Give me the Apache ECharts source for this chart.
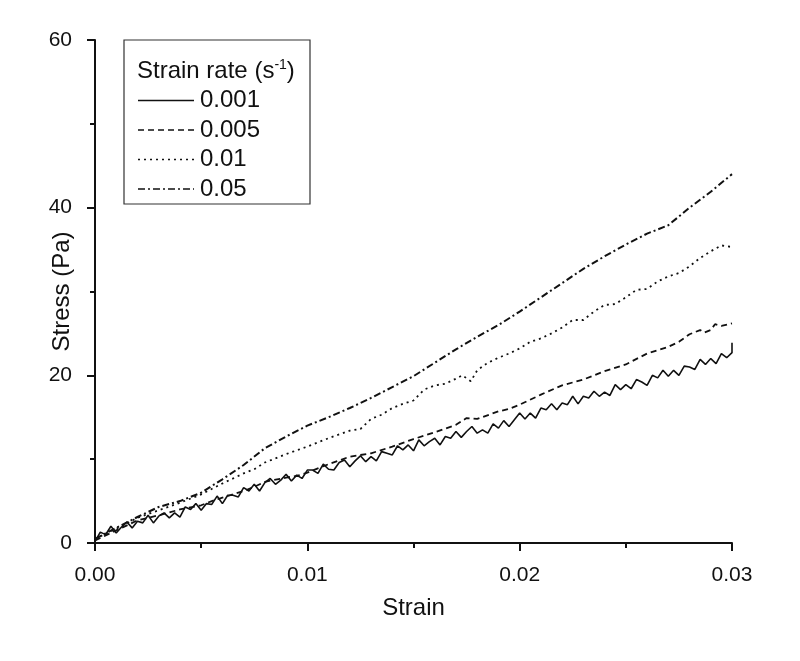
<!DOCTYPE html>
<html>
<head>
<meta charset="utf-8">
<script src="https://cdn.jsdelivr.net/npm/echarts@6/dist/echarts.min.js"></script>
<style>html,body{margin:0;padding:0;background:#fff}#c{width:800px;height:661px}</style>
</head>
<body>
<div id="c"></div>
<script>
// ---- data ----
const seriesNames = ['0.001', '0.005', '0.01', '0.05'];
const xTicks = [0, 0.01, 0.02, 0.03];
const yTicks = [0, 20, 40, 60];

// strain rate 0.001 (noisy trace), strain step 0.00025
const strain001 = [0,0.00025,0.0005,0.00075,0.001,0.00125,0.0015,0.00175,0.002,0.00225,0.0025,0.00275,0.003,0.00325,0.0035,0.00375,0.004,0.00425,0.0045,0.00475,0.005,0.00525,0.0055,0.00575,0.006,0.00625,0.0065,0.00675,0.007,0.00725,0.0075,0.00775,0.008,0.00825,0.0085,0.00875,0.009,0.00925,0.0095,0.00975,0.01,0.01025,0.0105,0.01075,0.011,0.01125,0.0115,0.01175,0.012,0.01225,0.0125,0.01275,0.013,0.01325,0.0135,0.01375,0.014,0.01425,0.0145,0.01475,0.015,0.01525,0.0155,0.01575,0.016,0.01625,0.0165,0.01675,0.017,0.01725,0.0175,0.01775,0.018,0.01825,0.0185,0.01875,0.019,0.01925,0.0195,0.01975,0.02,0.02025,0.0205,0.02075,0.021,0.02125,0.0215,0.02175,0.022,0.02225,0.0225,0.02275,0.023,0.02325,0.0235,0.02375,0.024,0.02425,0.0245,0.02475,0.025,0.02525,0.0255,0.02575,0.026,0.02625,0.0265,0.02675,0.027,0.02725,0.0275,0.02775,0.028,0.02825,0.0285,0.02875,0.029,0.02925,0.0295,0.02975,0.03,0.03];
const stress001 = [0.2,1.3,1.0,2.0,1.2,1.9,2.5,1.8,2.6,2.4,3.3,2.4,3.2,3.6,3.0,3.6,3.1,4.3,4.0,4.7,3.9,4.7,4.6,5.6,4.7,5.7,5.7,5.5,6.6,6.2,7.0,6.2,7.2,7.7,7.0,7.5,8.2,7.4,8.1,7.7,8.7,8.7,8.3,9.4,8.8,8.7,9.6,9.9,9.1,9.8,10.4,9.7,10.3,9.8,10.9,10.7,10.5,11.6,11.1,11.7,11.0,12.3,11.6,12.1,12.5,11.7,12.7,12.5,13.3,12.6,13.3,13.9,13.1,13.5,13.1,14.2,13.7,14.6,13.9,14.7,15.5,14.8,15.5,14.9,16.1,15.9,16.6,15.9,16.7,16.5,17.5,16.6,17.5,17.3,18.1,17.5,18.0,17.6,18.9,18.3,18.9,18.4,19.5,19.2,18.8,20.0,19.7,20.6,19.9,20.6,20.0,21.1,21.0,20.7,21.9,21.3,22.0,21.4,22.6,22.1,22.7,23.9];

// strain rate 0.005
const strain005 = [0,0.001,0.002,0.003,0.004,0.005,0.0055,0.006,0.007,0.0075,0.008,0.009,0.0095,0.01,0.011,0.012,0.013,0.014,0.015,0.016,0.017,0.0175,0.018,0.019,0.0195,0.02,0.021,0.022,0.023,0.024,0.025,0.026,0.0265,0.027,0.0275,0.028,0.0285,0.0287,0.029,0.0292,0.0295,0.03];
const stress005 = [0.3,1.5,2.7,3.3,4.0,4.5,5.0,5.4,6.2,6.7,7.3,7.8,8.0,8.4,9.4,10.3,10.7,11.5,12.4,13.2,14.1,14.9,14.8,15.7,16.0,16.5,17.7,18.8,19.5,20.5,21.3,22.6,23.0,23.4,24.0,24.9,25.4,25.1,25.4,26.1,25.9,26.2];

// strain rate 0.01
const strain01 = [0,0.001,0.002,0.003,0.004,0.005,0.006,0.007,0.0075,0.008,0.009,0.01,0.011,0.012,0.0125,0.013,0.0135,0.014,0.0145,0.015,0.0155,0.016,0.0165,0.017,0.0173,0.0177,0.018,0.0185,0.019,0.0195,0.02,0.0205,0.021,0.0215,0.022,0.0225,0.023,0.0235,0.024,0.0245,0.025,0.0255,0.026,0.0265,0.027,0.0275,0.028,0.0285,0.029,0.0295,0.03];
const stress01 = [0.5,1.7,3.0,3.9,4.8,5.8,7.1,8.3,8.8,9.6,10.6,11.5,12.5,13.4,13.6,14.8,15.3,16.1,16.6,17.0,18.3,18.8,19.0,19.6,20.0,19.3,20.6,21.5,22.1,22.6,23.2,24.0,24.4,25.0,25.7,26.6,26.6,27.6,28.4,28.5,29.3,30.2,30.3,31.2,31.8,32.2,33.0,34.0,34.8,35.5,35.3];

// strain rate 0.05
const strain05 = [0,0.001,0.002,0.003,0.004,0.005,0.006,0.007,0.008,0.009,0.01,0.011,0.012,0.013,0.014,0.015,0.016,0.017,0.018,0.019,0.02,0.021,0.022,0.023,0.024,0.025,0.026,0.027,0.028,0.029,0.03];
const stress05 = [0.5,1.8,3.1,4.3,5.0,6.0,7.6,9.3,11.3,12.7,14.0,15.0,16.1,17.3,18.6,19.9,21.5,23.1,24.6,26.0,27.6,29.3,31.0,32.7,34.2,35.6,36.9,37.9,40.0,41.9,44.0];

// ---- chart ----
const FONT = "'Liberation Sans', Arial, sans-serif";
const INK = '#111';
const dashTypes = ['solid', [6, 4], [2, 4], [7, 3, 2, 3]];
const widths = [1.6, 1.8, 1.8, 2];
const xs = [strain001, strain005, strain01, strain05];
const ys = [stress001, stress005, stress01, stress05];

const series = seriesNames.map((n, i) => ({
  name: n, type: 'line', showSymbol: false, symbol: 'none',
  data: xs[i].map((x, j) => [x, ys[i][j]]),
  lineStyle: { color: INK, width: widths[i], type: dashTypes[i] },
  animation: false
}));

// legend drawn as graphic, built from seriesNames
const legendX = 124, legendY = 40, rowH = 29.5;
const graphics = [
  { type: 'rect', shape: { x: legendX, y: legendY, width: 186, height: 164 },
    style: { fill: '#fff', stroke: '#333', lineWidth: 1.2 }, z: 10 },
  { type: 'text', x: legendX + 13, y: legendY + 31, z: 11,
    style: { text: 'Strain rate (s{sup|-1})', font: '24px ' + FONT, fill: INK, verticalAlign: 'middle',
      rich: { sup: { fontSize: 14, fontFamily: FONT, verticalAlign: 'top', padding: [0, 0, 12, 0], fill: INK } } } }
];
seriesNames.forEach((n, i) => {
  const cy = legendY + 31 + rowH * (i + 1);
  graphics.push({ type: 'line', z: 11, shape: { x1: legendX + 14, y1: cy, x2: legendX + 70, y2: cy },
    style: { stroke: INK, lineWidth: widths[i] * 0.8, lineDash: dashTypes[i] === 'solid' ? null : dashTypes[i] } });
  graphics.push({ type: 'text', z: 11, x: legendX + 76, y: cy,
    style: { text: n, font: '24px ' + FONT, fill: INK, verticalAlign: 'middle' } });
});

const chart = echarts.init(document.getElementById('c'), null, { renderer: 'canvas' });
chart.setOption({
  backgroundColor: '#fff',
  animation: false,
  grid: { left: 95, right: 68, top: 40, bottom: 118 },
  xAxis: {
    type: 'value', min: xTicks[0], max: xTicks[xTicks.length - 1], interval: 0.01,
    name: 'Strain', nameLocation: 'middle', nameGap: 53, nameMoveOverlap: false,
    nameTextStyle: { fontSize: 24, fontFamily: FONT, color: INK },
    axisLine: { show: true, onZero: false, lineStyle: { color: INK, width: 2 } },
    axisTick: { show: true, inside: false, length: 8, lineStyle: { color: INK, width: 2 } },
    minorTick: { show: true, splitNumber: 2, length: 5, lineStyle: { color: INK, width: 2 } },
    splitLine: { show: false },
    axisLabel: { fontSize: 21, fontFamily: FONT, color: INK, margin: 22, formatter: v => v.toFixed(2) }
  },
  yAxis: {
    type: 'value', min: yTicks[0], max: yTicks[yTicks.length - 1], interval: 20,
    name: 'Stress (Pa)', nameLocation: 'middle', nameGap: 21, nameRotate: 90, nameMoveOverlap: false,
    nameTextStyle: { fontSize: 24, fontFamily: FONT, color: INK },
    axisLine: { show: true, onZero: false, lineStyle: { color: INK, width: 2 } },
    axisTick: { show: true, inside: false, length: 8, lineStyle: { color: INK, width: 2 } },
    minorTick: { show: true, splitNumber: 2, length: 5, lineStyle: { color: INK, width: 2 } },
    splitLine: { show: false },
    axisLabel: { fontSize: 21, fontFamily: FONT, color: INK, margin: 23 }
  },
  graphic: graphics,
  series: series
});
</script>
</body>
</html>
